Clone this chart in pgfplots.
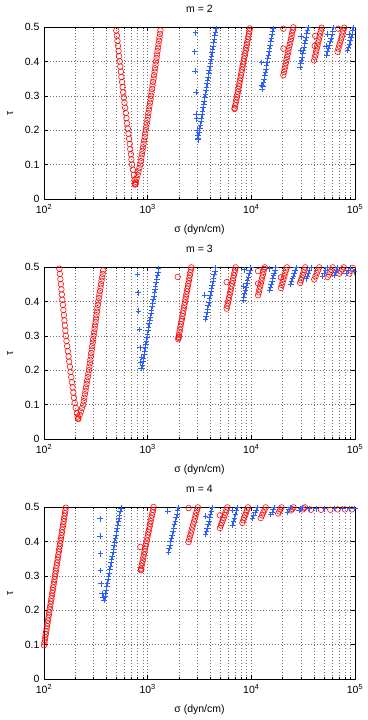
\documentclass[border=0pt]{standalone}
\usepackage{fontspec}
\setmainfont{Liberation Sans}
\usepackage{pgfplots}
\pgfplotsset{compat=1.18}
\definecolor{mred}{RGB}{255,0,0}
\definecolor{mblue}{RGB}{45,95,255}
\pgfplotsset{
  mypanel/.style={
    scale only axis, width=311pt, height=172pt,
    xmin=100, xmax=100000, ymin=0, ymax=0.5,
    xtick={100,1000,10000,100000},
    xticklabels={10\textsuperscript{2},10\textsuperscript{3},10\textsuperscript{4},10\textsuperscript{5}},
    minor xtick={200,300,400,500,600,700,800,900,2000,3000,4000,5000,6000,7000,8000,9000,20000,30000,40000,50000,60000,70000,80000,90000},
    ytick={0,0.1,0.2,0.3,0.4,0.5},
    yticklabels={0,0.1,0.2,0.3,0.4,0.5},
    xmajorgrids, xminorgrids, ymajorgrids,
    major grid style={black!55, dash pattern=on 0.6pt off 2.4pt},
    minor grid style={black!55, dash pattern=on 0.6pt off 2.4pt},
    major tick length=4pt, minor tick length=2pt,
    tick style={black, line width=0.4pt},
    axis line style={line width=0.7pt},
    tick label style={font=\fontsize{10.5}{12}\selectfont},
    xticklabel style={yshift=-2pt},
    yticklabel style={xshift=-1pt},
    label style={font=\fontsize{10.5}{12}\selectfont},
    title style={font=\fontsize{10.5}{12}\selectfont, at={(axis description cs:0.5,1.07)}, anchor=center},
    xlabel={σ (dyn/cm)}, ylabel={τ},
    xlabel style={at={(axis description cs:0.5,-0.18)}, anchor=center},
    ylabel style={at={(axis description cs:-0.109,0.5)}, anchor=center},
    clip=false,
  },
  redo/.style={only marks, mark=o, mark size=2.8pt, color=mred, line width=0.55pt},
  bluep/.style={only marks, mark=+, mark size=2.8pt, color=mblue, line width=0.7pt},
}
\begin{document}
\begin{tikzpicture}
\useasboundingbox (0,0) rectangle (367pt,-720pt);

% m = 2
\begin{semilogxaxis}[mypanel, at={(44pt,-27pt)}, anchor=north west, title={m = 2}]
\addplot[redo] coordinates {
(498,0.49)(505,0.475)(511,0.46)(518,0.445)(524,0.43)(531,0.415)(538,0.40)(545,0.385)(552,0.37)(558,0.355)(566,0.34)(574,0.325)(581,0.31)(589,0.295)(597,0.28)(607,0.265)(615,0.25)(624,0.235)(634,0.22)(643,0.205)(652,0.19)(661,0.175)(671,0.16)(679,0.145)(689,0.13)(697,0.115)(706,0.10)(721,0.085)(736,0.07)(750,0.055)(760,0.045)(755,0.042)(765,0.043)
(767,0.05)(783,0.06)(800,0.07)(817,0.08)(832,0.09)(849,0.10)(859,0.11)(869,0.12)(881,0.13)(891,0.14)(902,0.15)(912,0.16)(923,0.17)(935,0.18)(946,0.19)(957,0.20)(968,0.21)(980,0.22)(993,0.23)(1005,0.24)(1016,0.25)(1028,0.26)(1040,0.27)(1054,0.28)(1067,0.29)(1079,0.30)(1091,0.31)(1104,0.32)(1114,0.33)(1127,0.34)(1140,0.35)(1153,0.36)(1167,0.37)(1178,0.38)(1191,0.39)(1205,0.40)(1219,0.41)(1230,0.42)(1245,0.43)(1259,0.44)(1271,0.45)(1285,0.46)(1300,0.47)(1312,0.48)(1327,0.49)
(6870,0.262)(6918,0.264)(6998,0.272)(7079,0.280)(7161,0.288)(7244,0.296)(7328,0.304)(7413,0.312)(7499,0.320)(7586,0.328)(7674,0.336)(7762,0.344)(7852,0.352)(7943,0.360)(8035,0.368)(8128,0.376)(8222,0.384)(8318,0.392)(8414,0.400)(8511,0.408)(8630,0.416)(8730,0.424)(8831,0.432)(8933,0.440)(9036,0.448)(9141,0.456)(9247,0.464)(9354,0.472)(9462,0.480)(9572,0.488)(9683,0.496)
(20370,0.495)(20370,0.437)(20370,0.360)(20650,0.369)(20940,0.378)(21230,0.386)(21530,0.395)(21830,0.404)(22130,0.413)(22440,0.421)(22750,0.430)(23120,0.439)(23440,0.448)(23770,0.456)(24100,0.465)(24430,0.474)(24770,0.483)(25120,0.491)(25470,0.499)
(41300,0.474)(40900,0.445)(40360,0.403)(40930,0.412)(41590,0.420)(42170,0.429)(42850,0.438)(43450,0.446)(44160,0.455)(44770,0.463)(45500,0.472)(46130,0.481)(46880,0.489)(47530,0.498)
(69000,0.495)(67920,0.428)(69180,0.437)(70470,0.446)(71780,0.454)(73110,0.463)(74470,0.472)(75860,0.481)(77270,0.489)(78700,0.498)
};
\addplot[bluep] coordinates {
(2904,0.483)(2838,0.428)(2877,0.372)(2924,0.311)(2944,0.247)(2960,0.233)(2992,0.20)(3013,0.185)(3050,0.172)
(3069,0.175)(3105,0.185)(3141,0.195)(3184,0.205)(3221,0.215)(3266,0.225)(3304,0.235)(3342,0.245)(3388,0.255)(3428,0.265)(3475,0.275)(3516,0.285)(3556,0.295)(3606,0.305)(3648,0.315)(3690,0.325)(3741,0.335)(3784,0.345)(3837,0.355)(3882,0.365)(3926,0.375)(3981,0.385)(4027,0.395)(4083,0.405)(4130,0.415)(4178,0.425)(4236,0.435)(4285,0.445)(4345,0.455)(4395,0.465)(4446,0.475)(4508,0.485)(4560,0.495)
(12560,0.397)(12600,0.33)(12735,0.318)(12910,0.328)(13090,0.338)(13270,0.348)(13460,0.358)(13650,0.368)(13840,0.378)(14030,0.388)(14220,0.398)(14390,0.408)(14590,0.418)(14790,0.428)(15000,0.438)(15210,0.448)(15420,0.458)(15630,0.468)(15850,0.478)(16070,0.488)(16290,0.496)
(30060,0.474)(29800,0.432)(29510,0.384)(29960,0.394)(30410,0.403)(30870,0.413)(31330,0.423)(31810,0.432)(32280,0.442)(32770,0.452)(33270,0.461)(33770,0.471)(34280,0.481)(34790,0.490)(35320,0.499)
(54330,0.480)(52360,0.445)(53460,0.418)(54450,0.428)(55460,0.438)(56490,0.448)(57540,0.458)(58750,0.468)(59840,0.478)(60950,0.488)(62090,0.498)
(88100,0.480)(84920,0.432)(86500,0.441)(88310,0.451)(89950,0.460)(91620,0.470)(93540,0.479)(95280,0.489)(97050,0.498)
};
\end{semilogxaxis}

% m = 3
\begin{semilogxaxis}[mypanel, at={(44pt,-267pt)}, anchor=north west, title={m = 3}]
\addplot[redo] coordinates {
(140.6,0.495)(142.2,0.48)(143.9,0.465)(145.5,0.45)(147.2,0.435)(148.6,0.42)(150.3,0.405)(152.1,0.39)(153.8,0.375)(155.6,0.36)(157.4,0.345)(158.9,0.33)(160.7,0.315)(162.5,0.30)(164.8,0.285)(167.5,0.27)(169.8,0.255)(172.6,0.24)(175.0,0.225)(177.8,0.21)(180.3,0.195)(183.2,0.18)(185.8,0.165)(188.8,0.15)(191.9,0.135)(194.5,0.12)(197.7,0.105)(202.3,0.09)(207.5,0.075)(211.3,0.065)(213.8,0.058)
(214.8,0.06)(220.8,0.07)(226.5,0.08)(232.8,0.09)(238.8,0.10)(241.8,0.11)(244.9,0.12)(248.0,0.13)(251.2,0.14)(254.4,0.15)(257.6,0.16)(260.9,0.17)(264.2,0.18)(267.6,0.19)(271.0,0.20)(273.9,0.21)(276.8,0.22)(279.8,0.23)(282.7,0.24)(285.8,0.25)(288.8,0.26)(291.9,0.27)(295.0,0.28)(298.1,0.29)(301.3,0.30)(304.4,0.31)(307.6,0.32)(310.8,0.33)(314.1,0.34)(317.4,0.35)(320.6,0.36)(324.0,0.37)(327.3,0.38)(330.7,0.39)(334.2,0.40)(338.1,0.41)(342.0,0.42)(346.7,0.43)(350.8,0.44)(354.8,0.45)(358.9,0.46)(363.9,0.47)(368.1,0.48)(372.4,0.49)
(1950,0.471)(1975,0.290)(1990,0.297)(1982,0.294)(2004,0.302)(2025,0.310)(2048,0.318)(2070,0.326)(2093,0.334)(2116,0.342)(2140,0.349)(2163,0.357)(2188,0.365)(2211,0.373)(2236,0.381)(2261,0.389)(2286,0.397)(2311,0.405)(2337,0.413)(2362,0.421)(2388,0.429)(2415,0.437)(2442,0.444)(2469,0.452)(2495,0.460)(2523,0.468)(2551,0.476)(2579,0.484)(2607,0.492)(2636,0.499)
(5781,0.456)(5781,0.379)(5859,0.387)(5938,0.395)(6017,0.403)(6099,0.411)(6180,0.419)(6263,0.427)(6348,0.435)(6433,0.444)(6519,0.452)(6607,0.460)(6696,0.468)(6785,0.476)(6876,0.484)(6969,0.492)(7063,0.499)
(11610,0.488)(11610,0.452)(11610,0.418)(11790,0.4265)(11970,0.435)(12150,0.4435)(12330,0.452)(12520,0.4605)(12710,0.469)(12900,0.4775)(13090,0.486)(13290,0.4945)(13490,0.499)
(19280,0.470)(19280,0.439)(19650,0.4476)(20030,0.4562)(20410,0.4648)(20800,0.4734)(21210,0.482)(21620,0.4906)(22030,0.499)
(29580,0.454)(30150,0.4615)(30720,0.469)(31290,0.4765)(31890,0.484)(32490,0.4915)(33110,0.499)
(40460,0.464)(41590,0.473)(42760,0.482)(43950,0.490)(45190,0.499)
(54580,0.471)(56100,0.478)(57680,0.485)(59290,0.492)(60950,0.499)
(70630,0.481)(72950,0.487)(75510,0.493)(77980,0.499)
(88310,0.481)(91620,0.489)(95280,0.497)
};
\addplot[bluep] coordinates {
(801,0.478)(807,0.425)(818,0.372)(832,0.318)(849,0.265)(869,0.238)(855,0.224)(863,0.206)
(877,0.205)(888.6,0.215)(900,0.225)(911.6,0.235)(923.4,0.245)(935.2,0.255)(947.3,0.265)(959.4,0.275)(971.6,0.285)(984.2,0.295)(996.8,0.305)(1009.7,0.315)(1022.8,0.325)(1035.9,0.335)(1049.3,0.345)(1062.7,0.355)(1076.5,0.365)(1090.5,0.375)(1104.4,0.385)(1118.7,0.395)(1133,0.405)(1147.6,0.415)(1162.5,0.425)(1177.3,0.435)(1192.6,0.445)(1207.8,0.455)(1223.4,0.465)(1239.3,0.475)(1255.1,0.485)(1271.3,0.495)
(3540,0.418)(3622,0.348)(3676,0.358)(3731,0.368)(3786,0.378)(3842,0.388)(3899,0.398)(3957,0.408)(4016,0.418)(4075,0.428)(4136,0.438)(4198,0.448)(4259,0.458)(4323,0.468)(4387,0.478)(4452,0.488)(4519,0.498)
(8492,0.492)(8400,0.445)(8318,0.403)(8459,0.413)(8604,0.422)(8752,0.432)(8903,0.442)(9057,0.452)(9212,0.461)(9372,0.471)(9533,0.481)(9696,0.490)(9863,0.499)
(15070,0.495)(15070,0.432)(15320,0.4405)(15580,0.449)(15840,0.4575)(16110,0.466)(16380,0.4745)(16650,0.483)(16930,0.4915)(17220,0.499)
(24040,0.449)(24500,0.457)(24960,0.466)(25430,0.474)(25920,0.482)(26410,0.490)(26920,0.499)
(33650,0.466)(34590,0.474)(35560,0.482)(36560,0.491)(37580,0.499)
(48750,0.474)(50350,0.482)(52000,0.491)(53700,0.499)
(63240,0.476)(64860,0.484)(66370,0.491)(68080,0.499)
(82030,0.483)(86100,0.490)(90360,0.497)(99000,0.486)
};
\end{semilogxaxis}

% m = 4
\begin{semilogxaxis}[mypanel, at={(44pt,-507pt)}, anchor=north west, title={m = 4}]
\addplot[redo] coordinates {
(100.0,0.098)(100.97,0.106)(101.95,0.114)(102.94,0.122)(103.94,0.130)(104.97,0.138)(105.99,0.146)(107.02,0.154)(108.07,0.162)(109.12,0.170)(110.18,0.178)(111.25,0.186)(112.33,0.194)(113.43,0.202)(114.53,0.210)(115.66,0.218)(116.78,0.226)(117.92,0.234)(119.06,0.242)(120.23,0.250)(121.4,0.258)(122.57,0.266)(123.77,0.274)(124.97,0.282)(126.2,0.290)(127.42,0.298)(128.66,0.306)(129.91,0.314)(131.18,0.322)(132.46,0.330)(133.75,0.338)(135.04,0.346)(136.36,0.354)(137.69,0.362)(139.04,0.370)(140.39,0.378)(141.76,0.386)(143.14,0.394)(144.54,0.402)(145.94,0.410)(147.36,0.418)(148.8,0.426)(150.24,0.434)(151.72,0.442)(153.19,0.450)(154.68,0.458)(156.19,0.466)(157.71,0.474)(159.24,0.482)(160.79,0.490)(162.36,0.498)
(849,0.384)(860,0.316)(870,0.318)(863,0.321)(874.2,0.329)(885.4,0.337)(896.8,0.345)(908.3,0.354)(920.1,0.362)(931.8,0.370)(943.9,0.378)(955.9,0.386)(968.3,0.394)(980.6,0.402)(993.3,0.411)(1006,0.419)(1019,0.427)(1032,0.435)(1045,0.443)(1059,0.451)(1072,0.459)(1086,0.468)(1100,0.476)(1114,0.484)(1129,0.492)(1143,0.500)
(2477,0.497)(2477,0.398)(2520,0.4065)(2564,0.415)(2609,0.4235)(2655,0.432)(2701,0.4405)(2748,0.449)(2796,0.4575)(2844,0.466)(2894,0.4745)(2944,0.483)(2996,0.4915)(3048,0.499)
(4977,0.476)(4977,0.439)(5082,0.4465)(5188,0.454)(5297,0.4615)(5408,0.469)(5521,0.4765)(5636,0.484)(5754,0.4915)(5875,0.499)
(8204,0.454)(8375,0.4615)(8551,0.469)(8730,0.4765)(8913,0.484)(9099,0.4915)(9290,0.499)
(12330,0.468)(12680,0.476)(13030,0.484)(13400,0.491)(13770,0.499)
(18160,0.481)(18620,0.487)(19050,0.493)(19540,0.499)
(24040,0.490)(24770,0.494)(25530,0.499)
(31190,0.493)(32000,0.496)(32890,0.499)
(37580,0.492)(46990,0.492)(57810,0.492)(68080,0.493)(80170,0.493)(93110,0.493)
};
\addplot[bluep] coordinates {
(346,0.466)(347,0.416)(350,0.364)(352,0.316)(356,0.277)(362,0.248)(372,0.238)
(381.1,0.229)(386.4,0.239)(391.7,0.249)(397.2,0.259)(402.6,0.269)(408.2,0.279)(413.8,0.289)(419.5,0.299)(425.3,0.308)(431.2,0.318)(437.1,0.328)(443.2,0.338)(449.3,0.348)(455.5,0.358)(461.7,0.368)(468.1,0.378)(474.6,0.388)(481.1,0.398)(487.8,0.408)(494.4,0.418)(501.3,0.428)(508.3,0.437)(515.2,0.447)(522.4,0.457)(529.7,0.467)(537.0,0.477)(544.5,0.487)(552.1,0.497)
(1563,0.488)(1585,0.369)(1612,0.379)(1640,0.389)(1669,0.399)(1698,0.409)(1727,0.419)(1757,0.429)(1787,0.439)(1818,0.449)(1850,0.459)(1882,0.469)(1915,0.479)(1948,0.489)(1982,0.499)
(3622,0.474)(3622,0.420)(3690,0.430)(3758,0.439)(3828,0.449)(3899,0.459)(3972,0.469)(4046,0.479)(4121,0.488)(4198,0.498)
(6561,0.490)(6561,0.447)(6707,0.457)(6857,0.468)(7010,0.478)(7167,0.489)(7328,0.499)
(10260,0.468)(10540,0.476)(10840,0.484)(11140,0.491)(11460,0.499)
(15420,0.478)(15810,0.485)(16180,0.492)(16600,0.499)
(22340,0.485)(23010,0.492)(23710,0.498)
(28970,0.490)(29850,0.495)(30760,0.499)
(36220,0.495)(41980,0.495)(50580,0.495)(63240,0.496)(76210,0.496)(88310,0.496)(99500,0.496)
};
\end{semilogxaxis}
\end{tikzpicture}
\end{document}
